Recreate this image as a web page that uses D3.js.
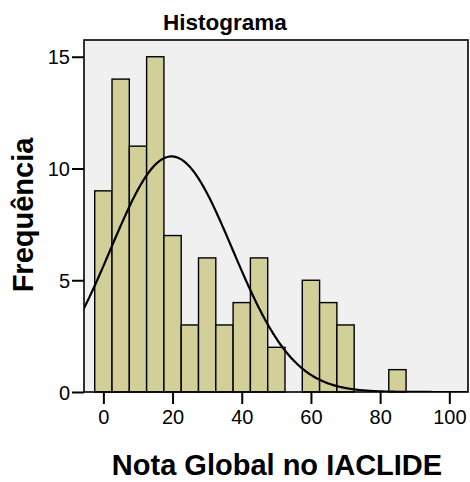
<!DOCTYPE html>
<html>
<head>
<meta charset="utf-8">
<script src="https://cdn.jsdelivr.net/npm/d3@7"></script>
<style>
  html, body { margin: 0; padding: 0; background: #ffffff; }
  svg text { font-family: "Liberation Sans", Arial, sans-serif; fill: #000; }
</style>
</head>
<body>
<svg id="chart" width="470" height="482"></svg>
<script>
// Histogram bins (bin centre, bin width 5) and counts
const binCenters = [0, 5, 10, 15, 20, 25, 30, 35, 40, 45, 50, 55, 60, 65, 70, 75, 80, 85];
const counts     = [9, 14, 11, 15, 7, 3, 6, 3, 4, 6, 2, 0, 5, 4, 3, 0, 0, 1];
const binWidth = 5;
const xTicks = [0, 20, 40, 60, 80, 100];
const yTicks = [0, 5, 10, 15];
// Fitted normal curve parameters
const curveMean = 19.7;
const curveSd = 17.6;

const svg = d3.select("#chart");
const plot = { left: 84, right: 468, top: 40, bottom: 392 };

const x = d3.scaleLinear().domain([-5.6, 105.4]).range([plot.left, plot.right]);
const y = d3.scaleLinear().domain([0, 15]).range([plot.bottom, plot.bottom - 15 * 22.35]);

// plot background
svg.append("rect")
  .attr("x", plot.left).attr("y", plot.top)
  .attr("width", plot.right - plot.left).attr("height", plot.bottom - plot.top)
  .attr("fill", "#f0f0f0");

svg.append("defs").append("clipPath").attr("id", "clip")
  .append("rect")
  .attr("x", plot.left).attr("y", plot.top)
  .attr("width", plot.right - plot.left).attr("height", plot.bottom - plot.top);

// bars
const bins = binCenters.map((c, i) => ({ c, n: counts[i] })).filter(d => d.n > 0);
svg.append("g").selectAll("rect").data(bins).join("rect")
  .attr("x", d => x(d.c - binWidth / 2))
  .attr("y", d => y(d.n))
  .attr("width", d => x(d.c + binWidth / 2) - x(d.c - binWidth / 2))
  .attr("height", d => y(0) - y(d.n))
  .attr("fill", "#d3cf99")
  .attr("stroke", "#000")
  .attr("stroke-width", 1.4);

// normal curve scaled to counts
const total = d3.sum(counts);
const peak = total * binWidth / (curveSd * Math.sqrt(2 * Math.PI));
const pts = d3.range(-6, 106, 0.25).map(v => [v, peak * Math.exp(-0.5 * Math.pow((v - curveMean) / curveSd, 2))]);
svg.append("path")
  .datum(pts)
  .attr("clip-path", "url(#clip)")
  .attr("fill", "none")
  .attr("stroke", "#000")
  .attr("stroke-width", 2.2)
  .attr("d", d3.line().x(d => x(d[0])).y(d => y(d[1])));

// frame
svg.append("rect")
  .attr("x", plot.left).attr("y", plot.top)
  .attr("width", plot.right - plot.left).attr("height", plot.bottom - plot.top)
  .attr("fill", "none").attr("stroke", "#000").attr("stroke-width", 1.6);

// axes
const xAxis = svg.append("g")
  .attr("transform", `translate(0,${plot.bottom})`)
  .call(d3.axisBottom(x).tickValues(xTicks).tickSize(12).tickPadding(6).tickFormat(d3.format("d")));
const yAxis = svg.append("g")
  .attr("transform", `translate(${plot.left},0)`)
  .call(d3.axisLeft(y).tickValues(yTicks).tickSize(12).tickPadding(2).tickFormat(d3.format("d")));
[xAxis, yAxis].forEach(g => {
  g.select(".domain").remove();
  g.selectAll(".tick line").attr("stroke", "#000").attr("stroke-width", 2);
  g.selectAll(".tick text")
    .attr("font-family", "Liberation Sans, Arial, sans-serif")
    .attr("font-size", 20).attr("fill", "#000");
});
yAxis.selectAll(".tick text").attr("dy", "0.36em");

// titles
svg.append("text")
  .attr("x", 225).attr("y", 30)
  .attr("text-anchor", "middle")
  .attr("font-size", 22.5).attr("font-weight", "bold")
  .text("Histograma");

svg.append("text")
  .attr("x", 277).attr("y", 475)
  .attr("text-anchor", "middle")
  .attr("font-size", 29).attr("font-weight", "bold")
  .text("Nota Global no IACLIDE");

svg.append("text")
  .attr("transform", "translate(33,215) rotate(-90)")
  .attr("text-anchor", "middle")
  .attr("font-size", 29).attr("font-weight", "bold")
  .text("Frequência");
</script>
</body>
</html>
